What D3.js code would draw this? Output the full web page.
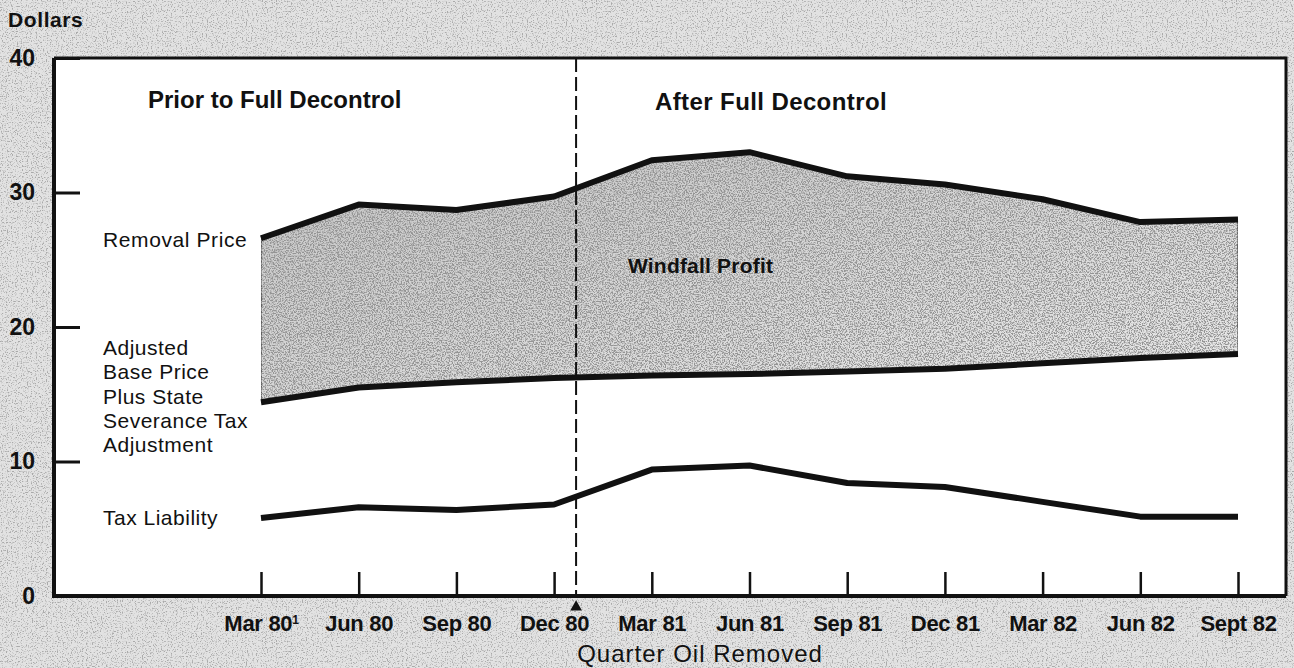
<!DOCTYPE html>
<html>
<head>
<meta charset="utf-8">
<script src="https://cdn.jsdelivr.net/npm/d3@7"></script>
<style>
  html, body { margin: 0; padding: 0; background: #fff; }
  svg { display: block; font-family: "Liberation Sans", Arial, Helvetica, sans-serif; }
</style>
</head>
<body>
<script>
// Data (dollars per barrel)
const quarters = ["Mar 80", "Jun 80", "Sep 80", "Dec 80", "Mar 81", "Jun 81", "Sep 81", "Dec 81", "Mar 82", "Jun 82", "Sept 82"];
const removalPrice = [26.6, 29.1, 28.7, 29.7, 32.4, 33.0, 31.2, 30.6, 29.5, 27.8, 28.0];
const adjustedBase = [14.4, 15.5, 15.9, 16.2, 16.4, 16.5, 16.7, 16.9, 17.3, 17.7, 18.0];
const taxLiability = [5.8, 6.6, 6.4, 6.8, 9.4, 9.7, 8.4, 8.1, 7.0, 5.9, 5.9];
const yTicks = [0, 10, 20, 30, 40];
// full decontrol falls shortly after the Dec 80 quarter
const decontrol = {after: "Dec 80", next: "Mar 81", frac: 0.225};

const width = 1294, height = 668;
const frame = {left: 54, right: 1286, top: 58, bottom: 596};

const svg = d3.select("body").append("svg").attr("width", width).attr("height", height);
const defs = svg.append("defs");

// speckled halftone look of the scan
function speckle(id, freq, k, c, tone, seed) {
  const f = defs.append("filter").attr("id", id)
    .attr("x", 0).attr("y", 0).attr("width", 1).attr("height", 1);
  f.append("feTurbulence").attr("type", "fractalNoise")
    .attr("baseFrequency", freq).attr("numOctaves", 2).attr("seed", seed).attr("result", "noise");
  f.append("feColorMatrix").attr("in", "noise").attr("type", "matrix")
    .attr("values", `0 0 0 0 ${tone}  0 0 0 0 ${tone}  0 0 0 0 ${tone}  ${-k} 0 0 0 ${c}`)
    .attr("result", "dots");
  f.append("feComposite").attr("in", "dots").attr("in2", "SourceAlpha").attr("operator", "in").attr("result", "clipped");
  const m = f.append("feMerge");
  m.append("feMergeNode").attr("in", "SourceGraphic");
  m.append("feMergeNode").attr("in", "clipped");
}
speckle("bgSpeckle", 0.8, 5, 2.4, 0.4, 4);
speckle("areaSpeckle", 0.75, 5, 2.9, 0.3, 7);

const grad = defs.append("linearGradient").attr("id", "areaGrad")
  .attr("x1", 0).attr("y1", 0).attr("x2", 1).attr("y2", 1);
grad.append("stop").attr("offset", "0%").attr("stop-color", "#c4c4c4");
grad.append("stop").attr("offset", "100%").attr("stop-color", "#ececec");

// page background + white plot
svg.append("rect").attr("width", width).attr("height", height)
  .attr("fill", "#e2e2e2").attr("filter", "url(#bgSpeckle)");
svg.append("rect").attr("x", frame.left).attr("y", frame.top)
  .attr("width", frame.right - frame.left).attr("height", frame.bottom - frame.top)
  .attr("fill", "#fff");

// Scales
const x = d3.scalePoint().domain(quarters).range([261, 1238]);
const y = d3.scaleLinear().domain([0, 40]).range([frame.bottom, frame.top]);

const rows = quarters.map((q, i) => ({q, removal: removalPrice[i], base: adjustedBase[i], tax: taxLiability[i]}));

// Windfall profit band
const band = d3.area().x(d => x(d.q)).y0(d => y(d.base)).y1(d => y(d.removal));
svg.append("path").datum(rows).attr("d", band)
  .attr("fill", "url(#areaGrad)").attr("filter", "url(#areaSpeckle)")
  .attr("stroke", "#222").attr("stroke-width", 1.3);

// Decontrol marker
const xDec = x(decontrol.after) + decontrol.frac * (x(decontrol.next) - x(decontrol.after));
svg.append("line").attr("x1", xDec).attr("x2", xDec).attr("y1", frame.top).attr("y2", frame.bottom)
  .attr("stroke", "#111").attr("stroke-width", 2).attr("stroke-dasharray", "14,5");
svg.append("path")
  .attr("d", d3.symbol(d3.symbolTriangle, 60)())
  .attr("transform", `translate(${xDec},${frame.bottom + 11})`)
  .attr("fill", "#111");

// Lines
const lineOf = key => d3.line().x(d => x(d.q)).y(d => y(d[key]));
["removal", "base", "tax"].forEach(key => {
  svg.append("path").datum(rows).attr("d", lineOf(key))
    .attr("fill", "none").attr("stroke", "#111").attr("stroke-width", 6)
    .attr("stroke-linejoin", "round");
});

// Axes
const yAxis = svg.append("g").attr("transform", `translate(${frame.left},0)`)
  .call(d3.axisLeft(y).tickValues(yTicks).tickSizeInner(-26).tickSizeOuter(0).tickPadding(19));
yAxis.select(".domain").remove();
yAxis.selectAll(".tick line").attr("stroke", "#111").attr("stroke-width", 3);
yAxis.selectAll(".tick text").attr("fill", "#111").style("font-size", "23px").style("font-weight", "bold");

const xAxis = svg.append("g").attr("transform", `translate(0,${frame.bottom})`)
  .call(d3.axisBottom(x).tickSizeInner(-24).tickSizeOuter(0).tickPadding(19));
xAxis.select(".domain").remove();
xAxis.selectAll(".tick line").attr("stroke", "#111").attr("stroke-width", 2.5);
xAxis.selectAll(".tick text").attr("fill", "#111").style("font-size", "22px").style("font-weight", "bold")
  .style("letter-spacing", "-0.3px");
xAxis.selectAll(".tick text").filter(d => d === "Mar 80")
  .append("tspan").attr("dy", "-0.55em").style("font-size", "12px").text("1");

// Frame
svg.append("path")
  .attr("d", `M${frame.left},${frame.top}H${frame.right}V${frame.bottom}`)
  .attr("fill", "none").attr("stroke", "#111").attr("stroke-width", 3);
svg.append("path")
  .attr("d", `M${frame.left},${frame.top}V${frame.bottom}H${frame.right}`)
  .attr("fill", "none").attr("stroke", "#111").attr("stroke-width", 4);

// Texts
const txt = (s, px, py, size, weight, extra) => {
  const t = svg.append("text").attr("x", px).attr("y", py).attr("fill", "#111")
    .style("font-size", size + "px").style("font-weight", weight).text(s);
  if (extra) extra(t);
  return t;
};
txt("Dollars", 8, 27, 21, "bold", t => t.style("letter-spacing", "0.6px"));
txt("Prior to Full Decontrol", 148, 108, 24, "bold");
txt("After Full Decontrol", 655, 110, 24, "bold", t => t.style("letter-spacing", "0.4px"));
txt("Windfall Profit", 628, 273, 21, "bold", t => t.style("letter-spacing", "0.2px"));
txt("Removal Price", 103, 247, 21, "normal", t => t.style("letter-spacing", "0.6px"));
["Adjusted", "Base Price", "Plus State", "Severance Tax", "Adjustment"].forEach((s, i) =>
  txt(s, 103, 355 + i * 24.3, 21, "normal", t => t.style("letter-spacing", "0.5px")));
txt("Tax Liability", 103, 525, 21, "normal", t => t.style("letter-spacing", "0.5px"));
txt("Quarter Oil Removed", 700, 662, 24, "normal", t => t.attr("text-anchor", "middle").style("letter-spacing", "1px"));
</script>
</body>
</html>
